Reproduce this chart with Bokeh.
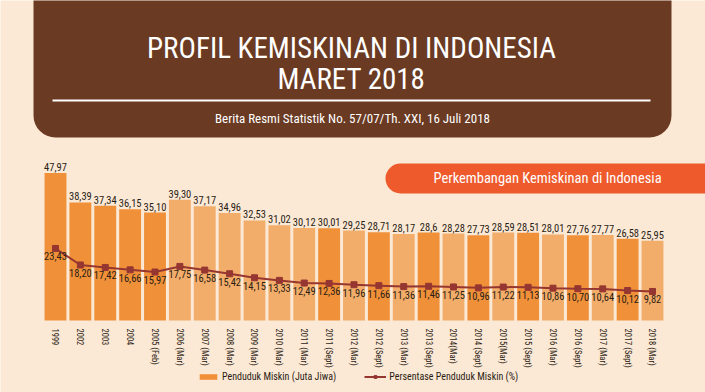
import math
from bokeh.plotting import figure
from bokeh.models import (Range1d, ColumnDataSource, BoxAnnotation, Legend,
                          LegendItem, Label)
from bokeh.core.properties import value
from bokeh.embed import file_html
from bokeh.resources import INLINE

# ---------------- data ----------------
periode = ["1999", "2002", "2003", "2004", "2005 (Feb)", "2006 (Mar)", "2007 (Mar)",
           "2008 (Mar)", "2009 (Mar)", "2010 (Mar)", "2011 (Mar)", "2011 (Sept)",
           "2012 (Mar)", "2012 (Sept)", "2013 (Mar)", "2013 (Sept)", "2014(Mar)",
           "2014 (Sept)", "2015(Mar)", "2015 (Sept)", "2016 (Mar)", "2016 (Sept)",
           "2017 (Mar)", "2017 (Sept)", "2018 (Mar)"]
penduduk_miskin = ["47,97", "38,39", "37,34", "36,15", "35,10", "39,30", "37,17",
                   "34,96", "32,53", "31,02", "30,12", "30,01", "29,25", "28,71",
                   "28,17", "28,6", "28,28", "27,73", "28,59", "28,51", "28,01",
                   "27,76", "27,77", "26,58", "25,95"]
persentase = ["23,43", "18,20", "17,42", "16,66", "15,97", "17,75", "16,58", "15,42",
              "14,15", "13,33", "12,49", "12,36", "11,96", "11,66", "11,36", "11,46",
              "11,25", "10,96", "11,22", "11,13", "10,86", "10,70", "10,64", "10,12",
              "9,82"]

# ---------------- style ----------------
W, H = 705, 392
BG = "#FBE9D6"
BROWN = "#6A3A22"
BANNER = "#EE5A2B"
DARK_BAR = "#F0913A"
LIGHT_BAR = "#F3AD6A"
LINE_C = "#963631"
TXT = "#2B1D14"
FONT = "Roboto Condensed"
GF = value(FONT)


def px(x):  # page x -> canvas px
    return x


def py(y):  # page y -> canvas px from bottom
    return H - y


src = ColumnDataSource(dict(
    idx=list(range(len(periode))),
    periode=periode,
    val=[float(s.replace(",", ".")) for s in penduduk_miskin],
    lbl=penduduk_miskin,
    pct=[float(s.replace(",", ".")) for s in persentase],
    plbl=persentase,
    color=[LIGHT_BAR if "Mar" in s else DARK_BAR for s in periode],
))

p = figure(width=W, height=H,
           x_range=Range1d(-2.211, 26.131),
           y_range=Range1d(-23.41, 104.07),
           output_backend="svg", toolbar_location=None, min_border=0,
           x_axis_type=None, y_axis_type=None)
p.background_fill_color = BG
p.border_fill_color = BG
p.outline_line_color = None
p.extra_x_ranges = {"px": Range1d(0, W)}
p.extra_y_ranges = {"px": Range1d(0, H), "pct": Range1d(-22.15, 101.9)}

# header box
p.add_layout(BoxAnnotation(left=px(33), right=px(671), bottom=py(137), top=py(-40),
                           x_range_name="px", y_range_name="px",
                           fill_color=BROWN, fill_alpha=1, line_color=None,
                           border_radius=22, level="underlay"))
p.segment(x0=px(52), x1=px(650), y0=py(100), y1=py(100), line_color="white",
          line_width=2, x_range_name="px", y_range_name="px")
for txt, yy in [("PROFIL KEMISKINAN DI INDONESIA", 47), ("MARET 2018", 78)]:
    p.add_layout(Label(x=px(351), y=py(yy), text=txt, text_align="center",
                       text_baseline="middle", text_font=FONT, text_font_size="29px",
                       text_color="white", x_range_name="px", y_range_name="px"))
p.add_layout(Label(x=px(352), y=py(118),
                   text="Berita Resmi Statistik No. 57/07/Th. XXI, 16 Juli 2018",
                   text_align="center", text_baseline="middle", text_font=FONT,
                   text_font_size="13px", text_color="white",
                   x_range_name="px", y_range_name="px"))

# banner
p.add_layout(BoxAnnotation(left=px(385), right=px(760), bottom=py(193), top=py(163),
                           x_range_name="px", y_range_name="px",
                           fill_color=BANNER, fill_alpha=1, line_color=None,
                           border_radius=15, level="underlay"))
p.add_layout(Label(x=px(433), y=py(178), text="Perkembangan Kemiskinan di Indonesia",
                   text_align="left", text_baseline="middle", text_font=FONT,
                   text_font_size="14.5px", text_color="white",
                   x_range_name="px", y_range_name="px"))

# bars
bars = p.vbar(x="idx", top="val", bottom=0, width=0.88, source=src,
              fill_color="color", line_color=None)
p.text(x="idx", y="val", text="lbl", source=src, text_align="center",
       text_baseline="bottom", y_offset=-2, text_font=GF,
       text_font_size="10.5px", text_color=TXT)

# line
ln = p.line(x="idx", y="pct", source=src, y_range_name="pct",
            line_color=LINE_C, line_width=2)
sq = p.scatter(x="idx", y="pct", source=src, y_range_name="pct",
               marker="square", size=6, fill_color=LINE_C, line_color=LINE_C)
p.text(x="idx", y="pct", text="plbl", source=src, y_range_name="pct",
       text_align="center", text_baseline="top", y_offset=4, text_font=GF,
       text_font_size="10.5px", text_color=TXT)

# category labels
p.text(x="idx", y=-2.6, text="periode", source=src, angle=-math.pi / 2,
       text_align="left", text_baseline="middle", text_font=GF,
       text_font_size="8.5px", text_color=TXT)

legend = Legend(items=[LegendItem(label="Penduduk Miskin (Juta Jiwa)", renderers=[bars]),
                       LegendItem(label="Persentase Penduduk Miskin (%)",
                                  renderers=[ln, sq])],
                orientation="horizontal", location=(197, 10), glyph_width=22,
                glyph_height=7, label_height=12, label_standoff=3, spacing=28,
                padding=0, margin=0, background_fill_alpha=0, border_line_color=None,
                label_text_font=FONT, label_text_font_size="10px",
                label_text_color=TXT)
p.add_layout(legend)

open("out.html", "w").write(file_html(p, INLINE))
